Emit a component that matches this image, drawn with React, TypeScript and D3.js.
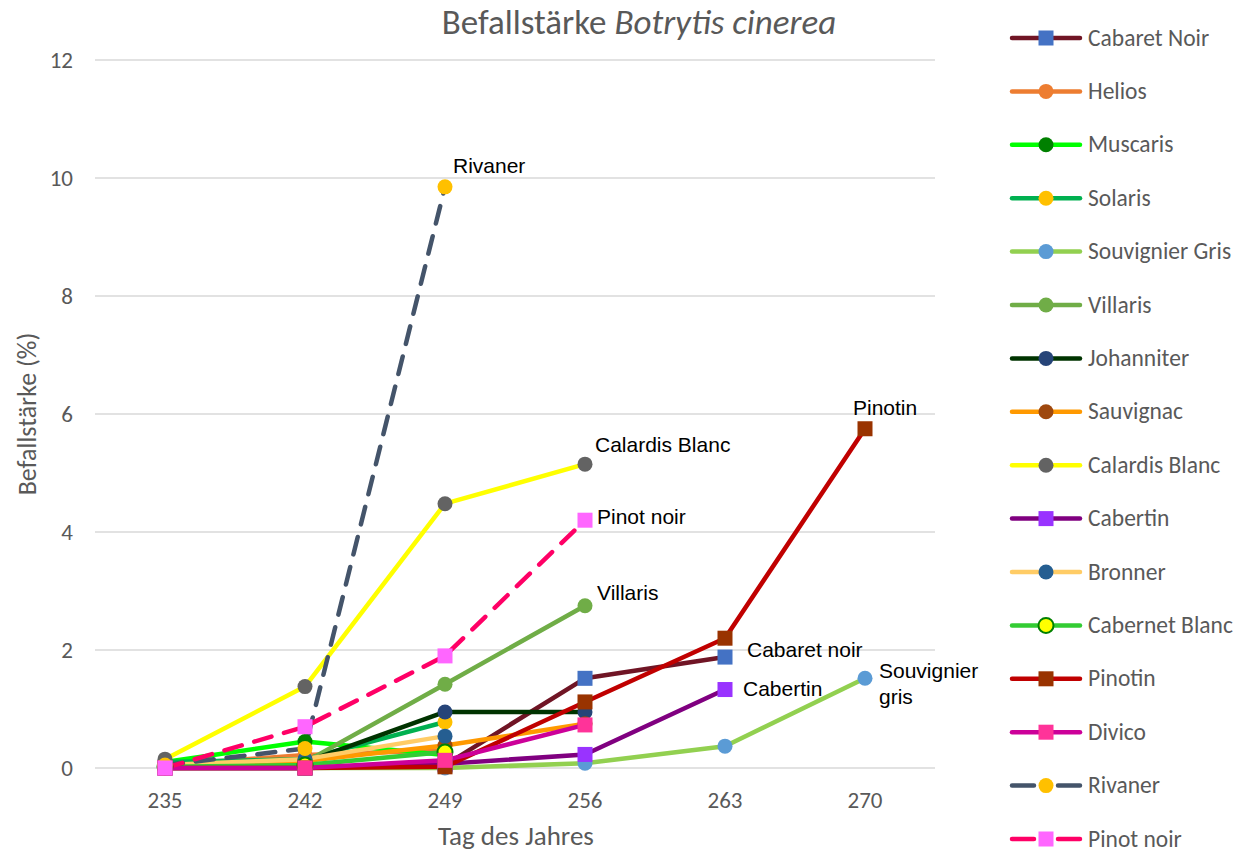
import React from "react";
import * as d3 from "d3";

const days = ["235", "242", "249", "256", "263", "270"];
const yTicks = [0, 2, 4, 6, 8, 10, 12];

const cabaretNoir = [0, 0, 0.05, 1.52, 1.88, null];
const helios = [0.05, 0.22, 0.3, null, null, null];
const muscaris = [0.1, 0.45, 0.22, null, null, null];
const solaris = [0.1, 0.15, 0.78, null, null, null];
const souvignierGris = [0, 0, 0, 0.08, 0.37, 1.52];
const villaris = [0.05, 0.1, 1.42, 2.75, null, null];
const johanniter = [0.05, 0.1, 0.95, 0.95, null, null];
const sauvignac = [0.03, 0.12, 0.38, 0.75, null, null];
const calardisBlanc = [0.15, 1.38, 4.48, 5.15, null, null];
const cabertin = [0, 0, 0.07, 0.23, 1.33, null];
const bronner = [0.05, 0.15, 0.54, null, null, null];
const cabernetBlanc = [0.02, 0.05, 0.27, null, null, null];
const pinotin = [0, 0, 0.02, 1.12, 2.2, 5.75];
const divico = [0, 0, 0.13, 0.73, null, null];
const rivaner = [0.05, 0.33, 9.85, null, null, null];
const pinotNoir = [0, 0.7, 1.9, 4.2, null, null];

type S = { name: string; values: (number | null)[]; line: string; fill: string; stroke?: string; shape: "circle" | "square"; dashed?: boolean };

const series: S[] = [
  { name: "Cabaret Noir", values: cabaretNoir, line: "#701525", fill: "#4472C4", shape: "square" },
  { name: "Helios", values: helios, line: "#ED7D31", fill: "#ED7D31", shape: "circle" },
  { name: "Muscaris", values: muscaris, line: "#00FF00", fill: "#008000", shape: "circle" },
  { name: "Solaris", values: solaris, line: "#00B050", fill: "#FFC000", shape: "circle" },
  { name: "Souvignier Gris", values: souvignierGris, line: "#92D050", fill: "#5B9BD5", shape: "circle" },
  { name: "Villaris", values: villaris, line: "#70AD47", fill: "#70AD47", shape: "circle" },
  { name: "Johanniter", values: johanniter, line: "#003300", fill: "#264478", shape: "circle" },
  { name: "Sauvignac", values: sauvignac, line: "#FF9900", fill: "#9E480E", shape: "circle" },
  { name: "Calardis Blanc", values: calardisBlanc, line: "#FFFF00", fill: "#636363", shape: "circle" },
  { name: "Cabertin", values: cabertin, line: "#800080", fill: "#9933FF", shape: "square" },
  { name: "Bronner", values: bronner, line: "#FFCC66", fill: "#255E91", shape: "circle" },
  { name: "Cabernet Blanc", values: cabernetBlanc, line: "#33CC33", fill: "#FFFF00", stroke: "#008000", shape: "circle" },
  { name: "Pinotin", values: pinotin, line: "#C00000", fill: "#993300", shape: "square" },
  { name: "Divico", values: divico, line: "#CC0099", fill: "#FF3399", shape: "square" },
  { name: "Rivaner", values: rivaner, line: "#44546A", fill: "#FFC000", shape: "circle", dashed: true },
  { name: "Pinot noir", values: pinotNoir, line: "#FF0066", fill: "#FF66FF", shape: "square", dashed: true },
];

const annotations = [
  { text: ["Rivaner"], day: "249", value: 9.85, dx: 8, dy: -14 },
  { text: ["Calardis Blanc"], day: "256", value: 5.15, dx: 10, dy: -12 },
  { text: ["Pinot noir"], day: "256", value: 4.2, dx: 12, dy: 4 },
  { text: ["Villaris"], day: "256", value: 2.75, dx: 12, dy: -6 },
  { text: ["Cabaret noir"], day: "263", value: 1.88, dx: 22, dy: 0 },
  { text: ["Cabertin"], day: "263", value: 1.33, dx: 18, dy: 6 },
  { text: ["Souvignier", "gris"], day: "270", value: 1.52, dx: 14, dy: 0 },
  { text: ["Pinotin"], day: "270", value: 5.75, dx: -12, dy: -14 },
];

const x = d3.scalePoint<string>().domain(days).range([95, 935]).padding(0.5);
const y = d3.scaleLinear().domain([0, 12]).range([768, 60]);

function Marker({ s, cx, cy }: { s: S; cx: number; cy: number }) {
  if (s.shape === "square") {
    return <rect x={cx - 7.5} y={cy - 7.5} width={15} height={15} fill={s.fill} />;
  }
  return <circle cx={cx} cy={cy} r={7.5} fill={s.fill} stroke={s.stroke || "none"} strokeWidth={s.stroke ? 2 : 0} />;
}

export default function App() {
  const lineGen = d3
    .line<number | null>()
    .defined((d) => d !== null)
    .x((_, i) => x(days[i]) as number)
    .y((d) => y(d as number));

  const font = "Carlito, Calibri, 'Open Sans', sans-serif";
  return (
    <svg width={1240} height={852} style={{ position: "absolute", left: 0, top: 0, background: "#fff" }}>
      <text x={639} y={34} textAnchor="middle" fontSize={35} fill="#595959" fontFamily={font}>
        Befallstärke <tspan fontStyle="italic">Botrytis cinerea</tspan>
      </text>
      {yTicks.map((t) => (
        <g key={t}>
          <line x1={95} x2={935} y1={y(t)} y2={y(t)} stroke="#D9D9D9" strokeWidth={1.5} />
          <text x={73} y={y(t) + 8} textAnchor="end" fontSize={23} fill="#595959" fontFamily={font}>
            {t}
          </text>
        </g>
      ))}
      {days.map((d) => (
        <text key={d} x={x(d)} y={808} textAnchor="middle" fontSize={23} fill="#595959" fontFamily={font}>
          {d}
        </text>
      ))}
      <text x={516} y={845} textAnchor="middle" fontSize={27} fill="#595959" fontFamily={font}>
        Tag des Jahres
      </text>
      <text transform="translate(36,414) rotate(-90)" textAnchor="middle" fontSize={26} fill="#595959" fontFamily={font}>
        Befallstärke (%)
      </text>
      {series.map((s) => (
        <path
          key={s.name}
          d={lineGen(s.values) || ""}
          fill="none"
          stroke={s.line}
          strokeWidth={4.5}
          strokeLinejoin="round"
          strokeLinecap={s.dashed ? "round" : "butt"}
          strokeDasharray={s.dashed ? "18 13" : undefined}
        />
      ))}
      {series.map((s) =>
        s.values.map((v, i) =>
          v === null ? null : <Marker key={s.name + i} s={s} cx={x(days[i]) as number} cy={y(v)} />
        )
      )}
      {annotations.map((a, i) => (
        <text key={i} x={(x(a.day) as number) + a.dx} y={y(a.value) + a.dy} fontSize={21} fill="#000" fontFamily="'Liberation Sans', Arial, sans-serif">
          {a.text.map((t, j) => (
            <tspan key={j} x={(x(a.day) as number) + a.dx} dy={j === 0 ? 0 : 26}>
              {t}
            </tspan>
          ))}
        </text>
      ))}
      {series.map((s, i) => {
        const cy = 38 + i * 53.4;
        return (
          <g key={s.name}>
            <line x1={1012} x2={1080} y1={cy} y2={cy} stroke={s.line} strokeWidth={4.5} strokeLinecap="round" strokeDasharray={s.dashed ? "22 24" : undefined} />
            <Marker s={s} cx={1046} cy={cy} />
            <text x={1088} y={cy + 7.5} fontSize={23.5} fill="#595959" fontFamily={font}>
              {s.name}
            </text>
          </g>
        );
      })}
    </svg>
  );
}
